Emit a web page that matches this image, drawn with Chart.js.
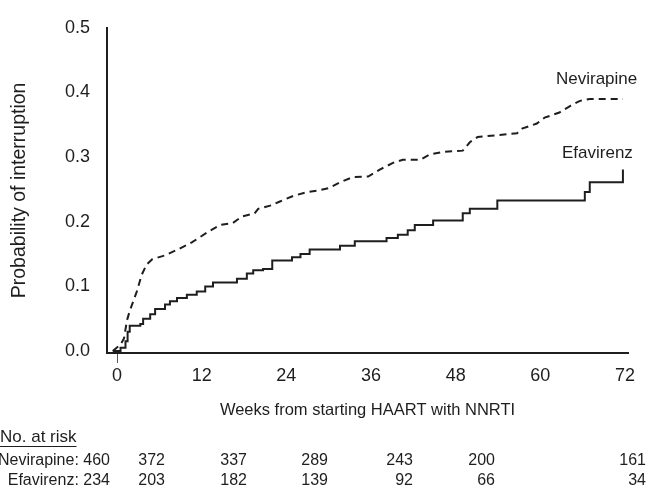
<!DOCTYPE html>
<html>
<head>
<meta charset="utf-8">
<script src="https://cdn.jsdelivr.net/npm/chart.js@4"></script>
<style>
  html, body { margin: 0; padding: 0; background: #fff; }
  #wrap { width: 648px; height: 491px; position: relative; }
</style>
</head>
<body>
<div id="wrap"><canvas id="c" width="648" height="491"></canvas></div>
<script>
// ---- Data ----
const nevirapineWeeks = [-0.6, 0.5, 1.0, 1.4, 1.8, 2.8, 3.5, 4.2, 5.0, 6.8, 8.6, 10.6, 12.0, 13.0, 14.6, 16.4, 17.7, 19.5, 20.0, 21.7, 23.0, 25.0, 27.0, 28.8, 30.0, 31.6, 33.4, 35.6, 37.3, 39.1, 40.5, 43.0, 44.3, 46.2, 49.0, 50.0, 51.1, 56.7, 57.4, 59.5, 60.6, 62.7, 64.2, 65.6, 67.0, 71.7];
const nevirapineProb  = [0, 0.01, 0.02, 0.047, 0.062, 0.092, 0.118, 0.134, 0.142, 0.148, 0.157, 0.168, 0.178, 0.185, 0.195, 0.198, 0.208, 0.213, 0.22, 0.225, 0.231, 0.24, 0.246, 0.249, 0.252, 0.261, 0.269, 0.27, 0.281, 0.291, 0.296, 0.296, 0.304, 0.308, 0.31, 0.323, 0.331, 0.337, 0.344, 0.352, 0.361, 0.369, 0.379, 0.387, 0.39, 0.39];

const efavirenzWeeks = [-0.6, 0.5, 1.2, 1.5, 1.8, 3.3, 3.7, 4.7, 5.4, 6.8, 7.5, 8.5, 9.9, 11.3, 12.5, 13.6, 17.0, 18.4, 19.3, 20.7, 22.0, 24.8, 26.0, 27.3, 31.6, 33.7, 38.2, 39.8, 41.2, 42.2, 44.8, 49.0, 50.0, 53.9, 66.3, 67.0, 71.5, 71.7];
const efavirenzProb  = [0, 0.005, 0.015, 0.03, 0.039, 0.042, 0.05, 0.057, 0.065, 0.072, 0.077, 0.082, 0.087, 0.092, 0.1, 0.106, 0.112, 0.12, 0.125, 0.127, 0.14, 0.145, 0.15, 0.157, 0.163, 0.17, 0.175, 0.18, 0.187, 0.195, 0.202, 0.213, 0.22, 0.233, 0.246, 0.261, 0.261, 0.281];

const xTickWeeks = [0, 12, 24, 36, 48, 60, 72];
const yTickValues = [0, 0.1, 0.2, 0.3, 0.4, 0.5];

const seriesNames = ['Nevirapine', 'Efavirenz'];
const atRiskNevirapine = [460, 372, 337, 289, 243, 200, 161];
const atRiskEfavirenz  = [234, 203, 182, 139, 92, 66, 34];

// ---- Layout constants ----
const FONT = '"Liberation Sans", Arial, Helvetica, sans-serif';
const INK = '#1e1e1e';
const tableRightEdges = [110, 165, 247, 328, 413, 495, 646];

const toPoints = (xs, ys) => xs.map((x, i) => ({ x: x, y: ys[i] }));

const annotationPlugin = {
  id: 'kmAnnotations',
  afterDraw(chart) {
    const ctx = chart.ctx;
    const ys = chart.scales.y;
    ctx.save();
    ctx.fillStyle = INK;
    ctx.textBaseline = 'middle';

    // curve labels
    ctx.font = '17px ' + FONT;
    ctx.textAlign = 'left';
    const nLast = nevirapineProb[nevirapineProb.length - 1];
    const eLast = efavirenzProb[efavirenzProb.length - 1];
    ctx.fillText(seriesNames[0], 556, ys.getPixelForValue(nLast) - 20);
    ctx.fillText(seriesNames[1], 562, ys.getPixelForValue(eLast) - 16);

    // number at risk table
    ctx.font = '17px ' + FONT;
    ctx.textAlign = 'left';
    ctx.fillText('No. at risk', 0, 437);
    const w = ctx.measureText('No. at risk').width;
    ctx.fillRect(0, 446, w, 1);

    ctx.font = '16px ' + FONT;
    ctx.textAlign = 'right';
    const rows = [[seriesNames[0], atRiskNevirapine, 461], [seriesNames[1], atRiskEfavirenz, 481]];
    rows.forEach(([name, vals, y]) => {
      vals.forEach((v, i) => {
        const txt = i === 0 ? name + ': ' + v : String(v);
        ctx.fillText(txt, tableRightEdges[i], y);
      });
    });
    ctx.restore();
  }
};

new Chart(document.getElementById('c'), {
  type: 'line',
  data: {
    datasets: [
      {
        label: seriesNames[0],
        data: toPoints(nevirapineWeeks, nevirapineProb),
        borderColor: INK,
        borderWidth: 2,
        borderDash: [7, 5],
        pointRadius: 0,
        tension: 0,
        fill: false
      },
      {
        label: seriesNames[1],
        data: toPoints(efavirenzWeeks, efavirenzProb),
        borderColor: INK,
        borderWidth: 2,
        stepped: 'before',
        pointRadius: 0,
        fill: false
      }
    ]
  },
  options: {
    responsive: false,
    animation: false,
    devicePixelRatio: 1,
    layout: { padding: { top: 20, right: 20, bottom: 71, left: 0 } },
    plugins: { legend: { display: false }, tooltip: { enabled: false } },
    scales: {
      x: {
        type: 'linear',
        min: -1.42,
        max: 72.42,
        afterBuildTicks: (s) => { s.ticks = xTickWeeks.map(v => ({ value: v })); },
        afterFit: (s) => { s.height = 67; },
        border: { display: true, color: INK, width: 2 },
        grid: {
          drawOnChartArea: false,
          drawTicks: true,
          tickLength: 10,
          tickWidth: 1,
          tickColor: (c) => (c.tick && c.tick.value === 0 ? '#555' : 'rgba(0,0,0,0)')
        },
        ticks: {
          color: INK,
          font: { family: FONT, size: 18 },
          padding: 2,
          maxRotation: 0,
          callback: (v) => String(v)
        },
        title: {
          display: true,
          text: 'Weeks from starting HAART with NNRTI',
          color: INK,
          font: { family: FONT, size: 16.5 },
          padding: { top: 0, bottom: 0 }
        }
      },
      y: {
        type: 'linear',
        min: -0.003,
        max: 0.5,
        afterBuildTicks: (s) => { s.ticks = yTickValues.map(v => ({ value: v })); },
        afterFit: (s) => { s.width = 107; },
        border: { display: true, color: INK, width: 2 },
        grid: { display: false, drawTicks: false },
        ticks: {
          color: INK,
          font: { family: FONT, size: 18 },
          padding: 17,
          callback: (v) => Number(v).toFixed(1)
        },
        title: {
          display: true,
          text: 'Probability of interruption',
          color: INK,
          font: { family: FONT, size: 19.5 },
          padding: { top: 8, bottom: 0 }
        }
      }
    }
  },
  plugins: [annotationPlugin]
});
</script>
</body>
</html>
